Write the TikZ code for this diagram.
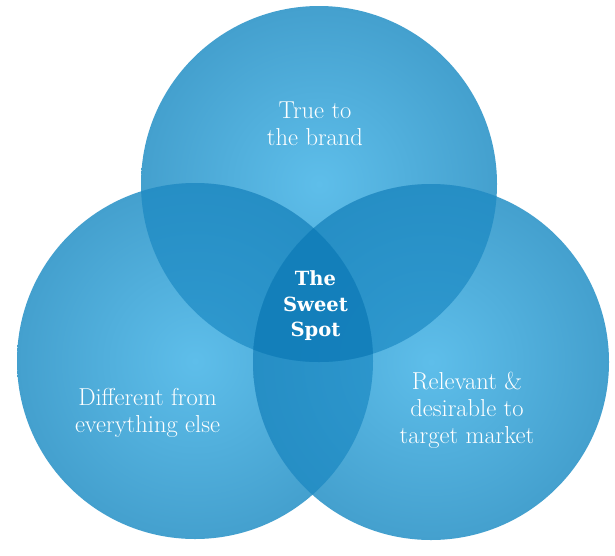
\documentclass[tikz,border=0pt]{standalone}
\usepackage{fontspec}
\newfontfamily\slabbold{DejaVu Serif}[BoldFont={DejaVu Serif Bold}]
\definecolor{cLight}{RGB}{94,190,234}
\definecolor{cEdge}{RGB}{68,160,206}
\definecolor{cOver}{RGB}{20,132,192}
\definecolor{cTri}{RGB}{16,118,176}
\tikzset{
  disc/.style={inner color=cLight, outer color=cEdge},
  lbl/.style={text=white, align=center, inner sep=0pt, font=\fontsize{24.5}{27}\selectfont},
  sweet/.style={text=white, align=center, inner sep=0pt, font=\slabbold\bfseries\fontsize{19.5}{25.5}\selectfont}
}
\begin{document}
\begin{tikzpicture}[x=1pt,y=-1pt]
\useasboundingbox (0,0) rectangle (615,555);
\coordinate (T) at (319,184);
\coordinate (L) at (195,361);
\coordinate (R) at (431,362);
\def\rad{178}
% base discs
\shade[disc] (T) circle (\rad);
\shade[disc] (L) circle (\rad);
\shade[disc] (R) circle (\rad);
% pairwise overlaps
\begin{scope}
  \clip (T) circle (\rad);
  \fill[cOver, opacity=0.62] (L) circle (\rad);
  \fill[cOver, opacity=0.62] (R) circle (\rad);
\end{scope}
\begin{scope}
  \clip (L) circle (\rad);
  \fill[cOver, opacity=0.62] (R) circle (\rad);
\end{scope}
% triple overlap
\begin{scope}
  \clip (T) circle (\rad);
  \clip (L) circle (\rad);
  \fill[cTri, opacity=0.35] (R) circle (\rad);
\end{scope}
% labels
\node[lbl] (brand) at (315,124) {True to\\the brand};
\node[lbl] (diff) at (147.5,413) {Different from\\everything else};
\node[lbl] (rel) at (467,410) {Relevant \&\\desirable to\\target market};
\node[sweet] (spot) at (315.5,306) {The\\Sweet\\Spot};
\end{tikzpicture}
\end{document}
